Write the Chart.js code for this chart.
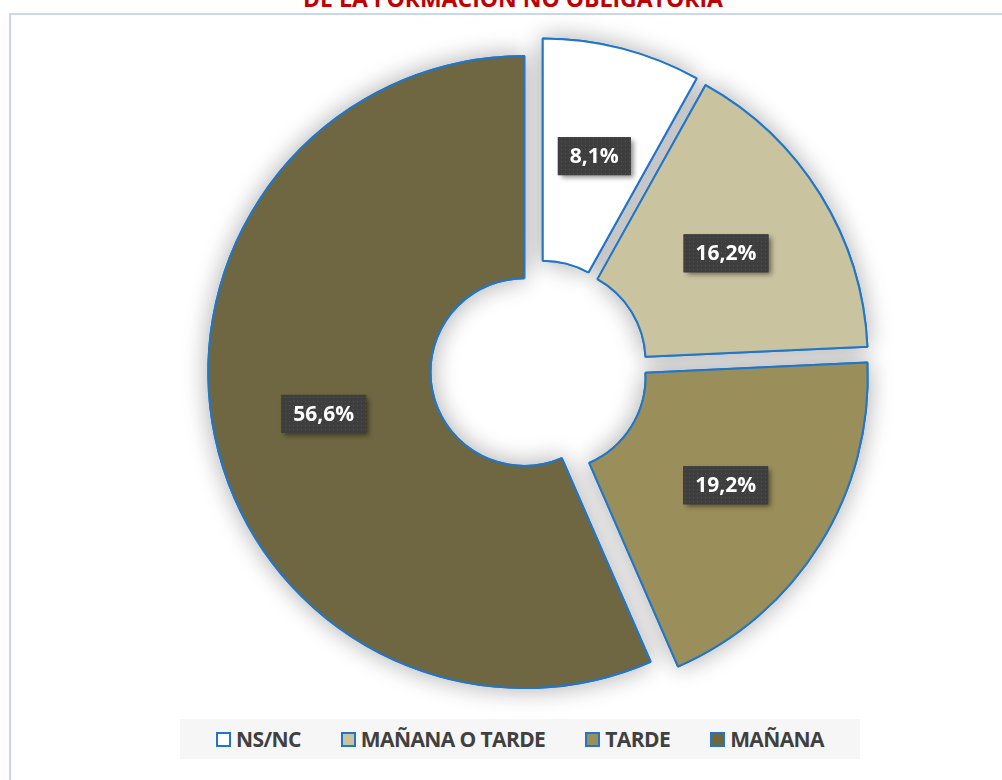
<!DOCTYPE html>
<html><head><meta charset="utf-8">
<script src="https://cdn.jsdelivr.net/npm/chart.js@4.4.1/dist/chart.umd.min.js"></script>
<style>
html,body{margin:0;padding:0;background:#fff;width:1002px;height:780px;overflow:hidden;position:relative;font-family:"Open Sans",sans-serif;}
#frame{position:absolute;left:9px;top:13px;width:1100px;height:900px;border-left:2px solid #C6D9F1;border-top:2px solid #C6D9F1;}
#title{position:absolute;left:0;width:1026px;top:-13px;text-align:center;font-weight:700;font-size:23px;line-height:23px;color:#C00000;white-space:nowrap;}
#chart{position:absolute;left:0;top:0;}
#legend{position:absolute;left:180px;top:719px;width:680px;height:40px;background:#F6F6F6;display:flex;align-items:center;justify-content:center;}
.item{display:flex;align-items:center;margin:0 20px;font-weight:700;font-size:21px;letter-spacing:-0.6px;color:#404040;white-space:nowrap;}
.sw{width:11px;height:11px;border:2px solid #2176C8;margin-right:5px;}
</style></head>
<body>
<div id="frame"></div>
<div id="title">DE LA FORMACIÓN NO OBLIGATORIA</div>
<canvas id="chart" width="1002" height="780"></canvas>
<div id="legend"></div>
<script>
const categories = ['NS/NC', 'MAÑANA O TARDE', 'TARDE', 'MAÑANA'];
const values = [8.1, 16.2, 19.2, 56.6];
const colors = ['#FFFFFF', '#C9C3A0', '#9A8E5A', '#6E6741'];

const EXPLODE = 15;
const BORDER = '#2176C8';

function fmt(v){ return v.toFixed(1).replace('.', ',') + '%'; }

// legend
const lg = document.getElementById('legend');
categories.forEach((c, i) => {
  const it = document.createElement('div'); it.className = 'item';
  const sw = document.createElement('span'); sw.className = 'sw'; sw.style.background = colors[i];
  const tx = document.createElement('span'); tx.textContent = c;
  it.appendChild(sw); it.appendChild(tx); lg.appendChild(it);
});

function shift(a){ const m = (a.startAngle + a.endAngle) / 2; return [Math.cos(m) * EXPLODE, Math.sin(m) * EXPLODE]; }

const explodePlugin = {
  id: 'explode',
  beforeDatasetDraw(chart, args){
    const ctx = chart.ctx; const arcs = args.meta.data;
    ctx.save();
    ctx.shadowColor = 'rgba(0,0,0,0.32)'; ctx.shadowBlur = 26; ctx.shadowOffsetX = 0; ctx.shadowOffsetY = 0;
    arcs.forEach(a => { const [dx, dy] = shift(a); ctx.save(); ctx.translate(dx, dy); a.draw(ctx); ctx.restore(); });
    ctx.restore();
    arcs.forEach(a => { const [dx, dy] = shift(a); ctx.save(); ctx.translate(dx, dy); a.draw(ctx); ctx.restore(); });
    return false;
  }
};

const pc = document.createElement('canvas'); pc.width = 4; pc.height = 4;
const pctx = pc.getContext('2d');
pctx.fillStyle = '#3E3E3E'; pctx.fillRect(0, 0, 4, 4);
pctx.fillStyle = '#525252'; pctx.fillRect(1, 1, 1, 1);

const labelPlugin = {
  id: 'labels',
  afterDatasetsDraw(chart){
    const ctx = chart.ctx; const meta = chart.getDatasetMeta(0);
    const pattern = ctx.createPattern(pc, 'repeat');
    const data = chart.data.datasets[0].data;
    meta.data.forEach((a, i) => {
      const m = (a.startAngle + a.endAngle) / 2;
      const r = (a.innerRadius + a.outerRadius) / 2 + EXPLODE;
      const x = a.x + Math.cos(m) * r, y = a.y + Math.sin(m) * r;
      const txt = fmt(data[i]);
      ctx.save();
      ctx.font = '700 21px "Open Sans"';
      const w = ctx.measureText(txt).width + 24, h = 38;
      ctx.shadowColor = 'rgba(0,0,0,0.45)'; ctx.shadowBlur = 5; ctx.shadowOffsetX = 3; ctx.shadowOffsetY = 3;
      ctx.fillStyle = '#3E3E3E'; ctx.fillRect(x - w / 2, y - h / 2, w, h);
      ctx.shadowColor = 'transparent';
      ctx.fillStyle = pattern; ctx.fillRect(x - w / 2, y - h / 2, w, h);
      ctx.fillStyle = '#FFFFFF'; ctx.textAlign = 'center'; ctx.textBaseline = 'middle';
      ctx.fillText(txt, x, y + 1);
      ctx.restore();
    });
  }
};

new Chart(document.getElementById('chart'), {
  type: 'doughnut',
  data: { labels: categories, datasets: [{ data: values, backgroundColor: colors, borderColor: BORDER, borderWidth: 2, hoverOffset: 0 }] },
  options: {
    responsive: false, animation: false, devicePixelRatio: 1,
    radius: 316, cutout: '29.7%',
    layout: { padding: { left: 76, right: 0, top: 0, bottom: 42 } },
    plugins: { legend: { display: false }, tooltip: { enabled: false }, title: { display: false } }
  },
  plugins: [explodePlugin, labelPlugin]
});
</script>
</body></html>
